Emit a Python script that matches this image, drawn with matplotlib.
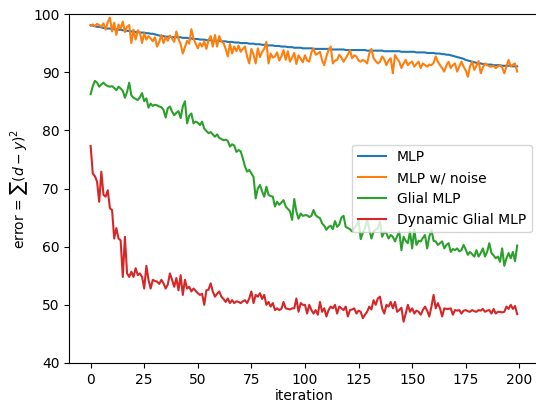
import matplotlib
matplotlib.use("Agg")
import matplotlib.pyplot as plt
import numpy as np

iterations = list(range(200))

mlp = [
    98.1, 98.0, 97.9, 97.8, 97.8, 97.7, 97.6, 97.6, 97.5, 97.5,
    97.4, 97.4, 97.4, 97.3, 97.3, 97.2, 97.2, 97.1, 97.1, 97.0,
    97.0, 96.9, 96.9, 96.8, 96.8, 96.8, 96.7, 96.7, 96.6, 96.6,
    96.5, 96.4, 96.3, 96.2, 96.2, 96.1, 96.1, 96.1, 96.0, 96.0,
    96.0, 96.0, 96.0, 95.9, 95.9, 95.9, 95.8, 95.8, 95.7, 95.7,
    95.7, 95.6, 95.6, 95.6, 95.5, 95.5, 95.5, 95.4, 95.4, 95.4,
    95.4, 95.3, 95.3, 95.3, 95.2, 95.2, 95.2, 95.1, 95.1, 95.1,
    95.0, 95.0, 95.0, 95.0, 94.9, 94.9, 94.9, 94.8, 94.8, 94.8,
    94.7, 94.7, 94.7, 94.6, 94.6, 94.6, 94.5, 94.5, 94.5, 94.4,
    94.4, 94.4, 94.3, 94.3, 94.3, 94.2, 94.2, 94.2, 94.2, 94.1,
    94.1, 94.1, 94.1, 94.1, 94.0, 94.0, 94.0, 94.0, 94.0, 94.0,
    94.0, 94.0, 93.9, 93.9, 93.9, 93.9, 93.9, 93.9, 93.9, 93.8,
    93.8, 93.8, 93.8, 93.8, 93.8, 93.8, 93.8, 93.8, 93.8, 93.7,
    93.7, 93.7, 93.7, 93.7, 93.7, 93.7, 93.7, 93.6, 93.6, 93.6,
    93.6, 93.6, 93.6, 93.6, 93.6, 93.5, 93.5, 93.5, 93.5, 93.5,
    93.5, 93.5, 93.4, 93.4, 93.4, 93.4, 93.4, 93.3, 93.3, 93.3,
    93.3, 93.2, 93.2, 93.2, 93.1, 93.1, 93.0, 93.0, 92.9, 92.8,
    92.7, 92.6, 92.5, 92.4, 92.3, 92.1, 92.0, 91.9, 91.8, 91.7,
    91.6, 91.5, 91.5, 91.4, 91.4, 91.3, 91.3, 91.3, 91.2, 91.2,
    91.2, 91.2, 91.1, 91.1, 91.1, 91.1, 91.1, 91.0, 91.0, 91.0,
]

mlp_noise = [
    98.0, 98.2, 97.9, 98.3, 98.1, 97.8, 98.4, 97.3, 98.6, 99.4,
    97.0, 98.5, 96.4, 98.2, 97.5, 98.7, 96.9, 97.8, 98.1, 95.0,
    97.3, 95.6, 97.2, 96.8, 95.0, 96.7, 95.6, 96.2, 95.8, 95.3,
    96.0, 94.4, 95.2, 96.4, 95.0, 96.0, 95.4, 96.3, 95.8, 95.2,
    97.0, 95.7, 94.8, 93.2, 94.3, 95.4, 94.9, 97.4, 95.8, 94.9,
    94.1, 95.0, 94.4, 95.3, 94.0, 95.5, 96.2, 94.4, 96.4, 94.4,
    96.2, 95.3, 95.0, 94.0, 92.7, 94.9, 93.2, 94.4, 93.6, 94.6,
    93.5, 94.0, 94.4, 92.7, 91.5, 94.0, 93.0, 91.5, 94.1, 92.6,
    93.5, 94.0, 95.2, 91.5, 93.2, 92.5, 92.7, 93.4, 92.0, 92.7,
    93.8, 92.1, 93.6, 91.8, 92.5, 93.3, 91.4, 92.9, 92.3, 91.7,
    92.9, 92.0, 91.8, 93.4, 94.1, 93.0, 93.2, 93.5, 92.0, 91.2,
    92.7, 93.8, 94.4, 91.5, 92.0, 92.1, 93.0, 92.5, 91.8, 92.4,
    93.0, 93.8, 92.4, 92.9, 92.7, 92.0, 91.8, 92.1, 91.9, 91.5,
    93.2, 94.0, 92.4, 91.9, 91.5, 91.8, 92.7, 92.2, 91.2, 92.0,
    92.4, 89.8, 92.95, 92.3, 91.8, 90.7, 91.5, 92.1, 91.2, 91.6,
    91.8, 90.95, 91.4, 91.8, 90.7, 91.5, 91.2, 90.95, 91.3, 91.2,
    91.6, 92.7, 91.8, 91.2, 90.7, 90.1, 91.2, 91.8, 90.7, 91.2,
    91.5, 90.1, 91.0, 91.8, 90.95, 90.3, 89.2, 91.0, 91.8, 90.4,
    91.1, 91.9, 89.8, 90.8, 91.5, 91.2, 91.0, 90.95, 91.1, 90.7,
    91.0, 91.2, 90.8, 89.8, 91.0, 92.1, 90.95, 91.3, 91.5, 90.1,
]

glial = [
    86.2, 87.6, 88.5, 88.2, 87.5, 87.9, 88.2, 87.8, 87.6, 87.5,
    87.6, 87.3, 86.9, 87.5, 87.2, 86.8, 85.6, 86.6, 88.2, 86.0,
    85.6, 85.4, 85.2, 85.7, 86.4, 85.0, 85.5, 83.9, 84.6, 84.2,
    84.4, 84.3, 84.1, 84.0, 83.5, 82.2, 83.8, 84.1, 83.2, 82.6,
    83.0, 83.3, 82.1, 84.1, 85.0, 81.2, 82.5, 82.9, 81.2, 81.5,
    81.3, 80.9, 81.5, 80.3, 79.9, 79.5, 79.7, 79.3, 78.9, 79.3,
    78.7, 78.5, 78.3, 78.4, 78.2, 77.2, 77.6, 77.4, 76.3, 76.6,
    76.4, 75.2, 73.8, 72.9, 73.2, 72.6, 72.0, 68.3, 70.0, 70.6,
    69.5, 68.6, 70.3, 68.9, 68.7, 68.6, 66.9, 67.7, 67.2, 67.6,
    68.0, 66.9, 66.5, 66.1, 64.6, 68.2, 66.0, 64.8, 65.7, 65.3,
    65.4, 65.4, 65.1, 65.3, 66.3, 65.4, 65.1, 64.9, 64.0, 63.6,
    62.9, 63.4, 63.6, 63.0, 64.4, 63.4, 63.8, 65.0, 65.3, 63.4,
    63.2, 63.0, 62.6, 63.2, 63.6, 64.6, 61.3, 62.4, 63.2, 64.6,
    63.0, 61.4, 62.6, 62.9, 63.2, 64.3, 61.7, 62.5, 62.3, 61.4,
    62.0, 61.7, 60.9, 61.8, 62.6, 59.4, 61.7, 61.0, 60.6, 62.6,
    59.7, 62.9, 60.3, 61.0, 60.9, 61.5, 62.0, 59.7, 61.7, 62.9,
    61.0, 60.9, 60.3, 60.6, 60.9, 59.7, 60.3, 60.6, 59.1, 59.6,
    59.4, 59.7, 59.2, 59.4, 60.3, 59.5, 58.6, 59.1, 58.7, 58.3,
    59.4, 58.3, 58.9, 59.7, 58.3, 59.1, 60.6, 58.9, 58.5, 58.0,
    58.3, 57.4, 59.7, 56.7, 58.0, 58.9, 58.0, 59.1, 57.5, 60.2,
]

dynamic_glial = [
    77.3, 72.6, 72.1, 71.2, 67.7, 72.9, 68.9, 68.6, 69.7, 66.6,
    66.3, 61.4, 63.2, 61.4, 61.1, 54.8, 61.7, 55.4, 54.8, 55.7,
    54.8, 56.3, 55.1, 55.4, 54.8, 52.8, 56.7, 54.3, 52.8, 54.3,
    54.1, 54.0, 53.6, 54.3, 53.7, 52.8, 53.5, 55.4, 54.3, 53.1,
    54.6, 52.5, 55.1, 51.7, 54.3, 52.8, 53.1, 52.3, 52.8, 52.4,
    52.0, 51.7, 51.9, 50.0, 52.5, 52.6, 53.7, 52.3, 51.4, 51.9,
    52.3, 51.4, 51.0, 50.5, 51.1, 50.3, 50.8, 50.3, 50.6, 50.5,
    50.3, 50.6, 50.8, 50.3, 51.1, 52.3, 50.3, 51.7, 51.4, 52.0,
    51.0, 51.7, 50.0, 50.5, 49.7, 50.3, 49.1, 49.4, 49.1, 49.3,
    50.5, 49.4, 49.3, 49.2, 49.4, 49.4, 51.1, 48.8, 50.3, 50.0,
    50.0, 48.5, 50.0, 49.1, 48.5, 49.1, 48.3, 50.5, 48.8, 49.4,
    48.0, 49.1, 49.7, 49.4, 50.0, 48.5, 49.7, 49.4, 49.1, 49.7,
    48.0, 49.1, 49.2, 49.4, 48.5, 49.0, 48.8, 47.7, 48.3, 48.8,
    49.7, 49.2, 50.8, 50.0, 51.1, 51.4, 49.4, 48.5, 50.0, 49.7,
    50.5, 49.4, 50.5, 48.8, 49.1, 49.5, 47.1, 48.5, 50.0, 48.8,
    49.4, 48.5, 49.0, 48.8, 48.3, 49.1, 49.7, 49.0, 48.0, 49.7,
    51.7, 49.4, 50.3, 49.4, 48.0, 49.4, 49.3, 49.3, 49.4, 48.3,
    49.1, 49.0, 49.1, 48.5, 49.0, 49.1, 48.9, 48.8, 49.1, 48.9,
    48.8, 49.1, 49.0, 49.3, 48.8, 49.0, 49.1, 48.5, 49.3, 48.5,
    48.8, 48.8, 48.7, 48.8, 49.7, 49.3, 50.0, 49.3, 49.8, 48.4,
]

labels = ["MLP", "MLP w/ noise", "Glial MLP", "Dynamic Glial MLP"]

fig = plt.figure(figsize=(5.36, 4.03), dpi=100)
ax = fig.add_axes([69.3 / 536, 40 / 403, (538.5 - 69.3) / 536, 349 / 403])
for series, lab in zip([mlp, mlp_noise, glial, dynamic_glial], labels):
    ax.plot(iterations, series, label=lab)
ax.set_ylim(40, 100)
ax.spines["right"].set_visible(False)
ax.set_xlabel("iteration", labelpad=2)
ax.set_ylabel(r"error = $\sum(d-y)^2$", labelpad=2)
ax.legend(loc="center right")
fig.savefig("out.png", dpi=100)
